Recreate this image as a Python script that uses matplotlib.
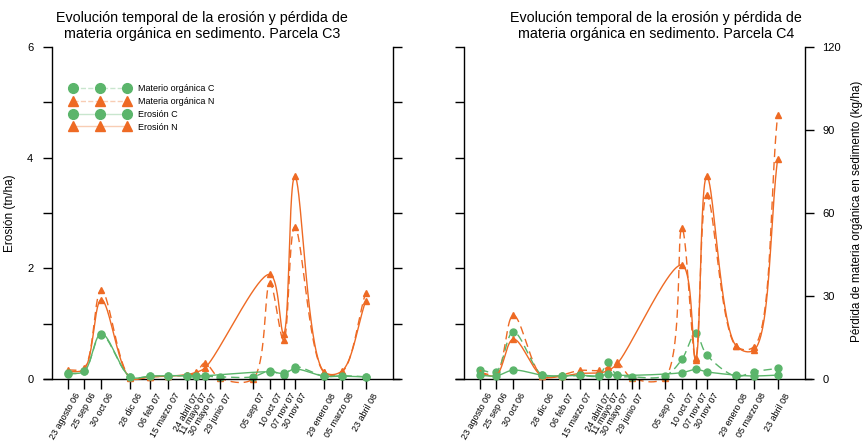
import numpy as np
import matplotlib
matplotlib.use("Agg")
import matplotlib.pyplot as plt
from matplotlib.lines import Line2D
from matplotlib.transforms import ScaledTranslation

plt.rcParams['font.family'] = ['Liberation Sans', 'DejaVu Sans']

# sampling dates (x axis) and their labels
fechas = ["2006-08-23", "2006-09-25", "2006-10-30", "2006-12-28", "2007-02-06",
          "2007-03-15", "2007-04-24", "2007-05-11", "2007-05-30", "2007-06-29",
          "2007-09-05", "2007-10-10", "2007-11-07", "2007-11-30", "2008-01-29",
          "2008-03-05", "2008-04-23"]
etiquetas = ["23 agosto 06", "25 sep 06", "30 oct 06", "28 dic 06", "06 feb 07",
             "15 marzo 07", "24 abril 07", "11 mayo 07", "30 mayo 07", "29 junio 07",
             "05 sep 07", "10 oct 07", "07 nov 07", "30 nov 07", "29 enero 08",
             "05 marzo 08", "23 abril 08"]
fecha_extra_c4 = ["2007-07-14"]

nan = np.nan

# Parcela C3: erosion in tn/ha, organic matter loss in kg/ha
eros_c_c3 = [0.10, 0.14, 0.82, 0.04, 0.05, 0.06, 0.06, 0.06, 0.06, nan, nan,
             0.13, 0.10, 0.18, 0.05, 0.05, 0.04]
eros_n_c3 = [0.13, 0.18, 1.43, 0.02, 0.04, 0.05, 0.08, 0.12, 0.20, nan, nan,
             1.89, 0.82, 3.66, 0.13, 0.14, 1.41]
mo_c_c3 = [1.8, 2.8, 16.0, 0.8, 1.0, 1.2, 1.2, 1.2, 1.0, 0.8, 0.8,
           3.0, 1.6, 4.4, 1.0, 1.2, 0.8]
mo_n_c3 = [3.2, 4.0, 32.0, 0.6, 0.8, 1.0, 1.4, 2.0, 5.8, 0.4, 0.0,
           34.6, 14.0, 55.0, 2.4, 2.4, 31.2]

# Parcela C4
eros_c_c4 = [0.067, 0.055, 0.16, 0.07, 0.055, 0.067, 0.055, 0.085, 0.067, nan, nan,
             0.115, 0.175, 0.13, 0.07, 0.055, 0.07]
eros_n_c4 = [0.10, 0.07, 0.72, 0.05, 0.05, 0.10, 0.11, 0.15, 0.27, nan, nan,
             2.06, 0.35, 3.66, 0.60, 0.52, 3.98]
mo_c_c4 = [3.3, 2.65, 17.0, 1.4, 1.1, 1.3, 1.3, 6.0, 1.3, 0.8, 1.1,
           7.1, 16.5, 8.7, 1.0, 2.65, 3.8]
mo_n_c4 = [2.3, 1.9, 23.0, 1.0, 1.5, 3.1, 3.1, 4.2, 6.0, 0.5, 0.5,
           54.5, 7.5, 66.5, 11.9, 11.6, 95.4]

VERDE = '#5BB56B'
NARANJA = '#EE6A24'
VERDE_CLARO = '#C9E6CE'
NARANJA_CLARO = '#F8CDB4'

t0 = np.datetime64(fechas[0])
dias = (np.array(fechas, dtype='datetime64[D]') - t0).astype(float)
dias_extra = (np.array(fecha_extra_c4, dtype='datetime64[D]') - t0).astype(float)


def suavizar(ax, x, y, n=40, alpha=0.5):
    """Centripetal Catmull-Rom curve through the points, built in display space."""
    x = np.asarray(x, float)
    y = np.asarray(y, float)
    ok = ~np.isnan(y)
    pts = ax.transData.transform(np.column_stack([x[ok], y[ok]]))
    p = np.vstack([2 * pts[0] - pts[1], pts, 2 * pts[-1] - pts[-2]])
    tramos = []
    for i in range(1, len(p) - 2):
        p0, p1, p2, p3 = p[i - 1], p[i], p[i + 1], p[i + 2]
        k0 = 0.0
        k1 = k0 + max(np.linalg.norm(p1 - p0), 1e-6) ** alpha
        k2 = k1 + max(np.linalg.norm(p2 - p1), 1e-6) ** alpha
        k3 = k2 + max(np.linalg.norm(p3 - p2), 1e-6) ** alpha
        t = np.linspace(k1, k2, n, endpoint=False)[:, None]
        a1 = (k1 - t) / (k1 - k0) * p0 + (t - k0) / (k1 - k0) * p1
        a2 = (k2 - t) / (k2 - k1) * p1 + (t - k1) / (k2 - k1) * p2
        a3 = (k3 - t) / (k3 - k2) * p2 + (t - k2) / (k3 - k2) * p3
        b1 = (k2 - t) / (k2 - k0) * a1 + (t - k0) / (k2 - k0) * a2
        b2 = (k3 - t) / (k3 - k1) * a2 + (t - k1) / (k3 - k1) * a3
        tramos.append((k2 - t) / (k2 - k1) * b1 + (t - k1) / (k2 - k1) * b2)
    tramos.append(pts[-1][None, :])
    curva = ax.transData.inverted().transform(np.vstack(tramos))
    return curva[:, 0], curva[:, 1]


def serie(ax, y, color, marker, ms, ls):
    cx, cy = suavizar(ax, dias, y)
    linea = ax.plot(cx, cy, color=color, lw=1.0, clip_on=False)[0]
    if ls == '--':
        linea.set_dashes((6, 3.5))
    ax.plot(dias, y, ls='none', marker=marker, ms=ms, color=color,
            mec=color, clip_on=False)


fig = plt.figure(figsize=(8.68, 4.42), dpi=100)
W, H = 868, 442
offset = ScaledTranslation(10 / 100, 0, fig.dpi_scale_trans)


def panel(x0, eros_c, eros_n, mo_c, mo_n, paso_der, etiquetas_der,
          etiquetas_izq, extra):
    ax = fig.add_axes([x0 / W, (H - 379) / H, 341 / W, 332 / H])
    ax2 = ax.twinx()
    for a in (ax, ax2):
        a.set_xlim(-33, 665)
    ax.set_ylim(0, 6)
    ax2.set_ylim(0, 120)

    ax.spines[['top', 'right', 'bottom']].set_visible(False)
    ax2.spines[['top', 'left', 'bottom']].set_visible(False)
    ax.spines['left'].set_linewidth(1.0)
    ax2.spines['right'].set_linewidth(1.0)

    ax.set_yticks(np.arange(0, 7, 1))
    ax.set_yticklabels([str(v) if v % 2 == 0 else '' for v in range(7)]
                       if etiquetas_izq else [])
    ax2.set_yticks(np.arange(0, 121, paso_der))
    if etiquetas_der:
        ax2.set_yticklabels([str(v) for v in range(0, 121, paso_der)])
    else:
        ax2.set_yticklabels([])
    ax.tick_params(axis='y', direction='out', length=6.5, width=1.0,
                   labelsize=8, pad=7)
    ax2.tick_params(axis='y', direction='out', length=6.5, width=1.0,
                    labelsize=8, pad=6)

    ticks = list(dias) + list(extra)
    labels = list(etiquetas) + [''] * len(extra)
    ax.set_xticks(ticks)
    ax.set_xticklabels(labels, rotation=60, ha='right', va='center',
                       rotation_mode='anchor', fontsize=6.5)
    ax.tick_params(axis='x', direction='out', length=7.2, width=1.0, pad=3.5)
    for lab in ax.get_xticklabels():
        lab.set_transform(lab.get_transform() + offset)
    ax.plot([-9 / 341, 1 + 7 / 341], [0, 0], transform=ax.transAxes,
            color='black', lw=1.0, clip_on=False, solid_capstyle='butt')

    serie(ax2, mo_n, NARANJA, '^', 4.5, '--')
    serie(ax, eros_n, NARANJA, '^', 4.5, '-')
    serie(ax2, mo_c, VERDE, 'o', 5, '--')
    serie(ax, eros_c, VERDE, 'o', 5, '-')
    ax.set_zorder(ax2.get_zorder() + 1)
    ax.patch.set_visible(False)
    return ax, ax2


ax_c3, ax2_c3 = panel(52, eros_c_c3, eros_n_c3, mo_c_c3, mo_n_c3,
                      20, False, True, [])
ax_c4, ax2_c4 = panel(464, eros_c_c4, eros_n_c4, mo_c_c4, mo_n_c4,
                      30, True, False, dias_extra)

for xc, parcela in ((202, "C3"), (656, "C4")):
    fig.text(xc / W, 1 - 11 / H,
             "Evolución temporal de la erosión y pérdida de\n"
             "materia orgánica en sedimento. Parcela " + parcela,
             ha='center', va='top', fontsize=10.3, linespacing=1.15)
fig.text(10 / W, 1 - 213 / H, "Erosión (tn/ha)", rotation=90,
         ha='center', va='center', fontsize=8.5)
fig.text(857 / W, 1 - 211 / H,
         "Pérdida de materia orgánica en sedimento (kg/ha)", rotation=90,
         ha='center', va='center', fontsize=8.5)

handles = [
    Line2D([], [], color=VERDE_CLARO, ls='--', lw=1.0, marker='o', ms=7,
           mfc=VERDE, mec=VERDE),
    Line2D([], [], color=NARANJA_CLARO, ls='--', lw=1.0, marker='^', ms=6.5,
           mfc=NARANJA, mec=NARANJA),
    Line2D([], [], color=VERDE_CLARO, ls='-', lw=1.0, marker='o', ms=7,
           mfc=VERDE, mec=VERDE),
    Line2D([], [], color=NARANJA_CLARO, ls='-', lw=1.0, marker='^', ms=6.5,
           mfc=NARANJA, mec=NARANJA),
]
ax_c3.legend(handles, ["Materio orgánica C", "Materia orgánica N",
                       "Erosión C", "Erosión N"],
             loc='upper left', bbox_to_anchor=(70 / W, 1 - 84 / H),
             bbox_transform=fig.transFigure, frameon=False, numpoints=3,
             handlelength=6.6, handletextpad=0.9, labelspacing=0.43,
             borderpad=0, borderaxespad=0, fontsize=6.5)

fig.savefig("out.png", dpi=100)
